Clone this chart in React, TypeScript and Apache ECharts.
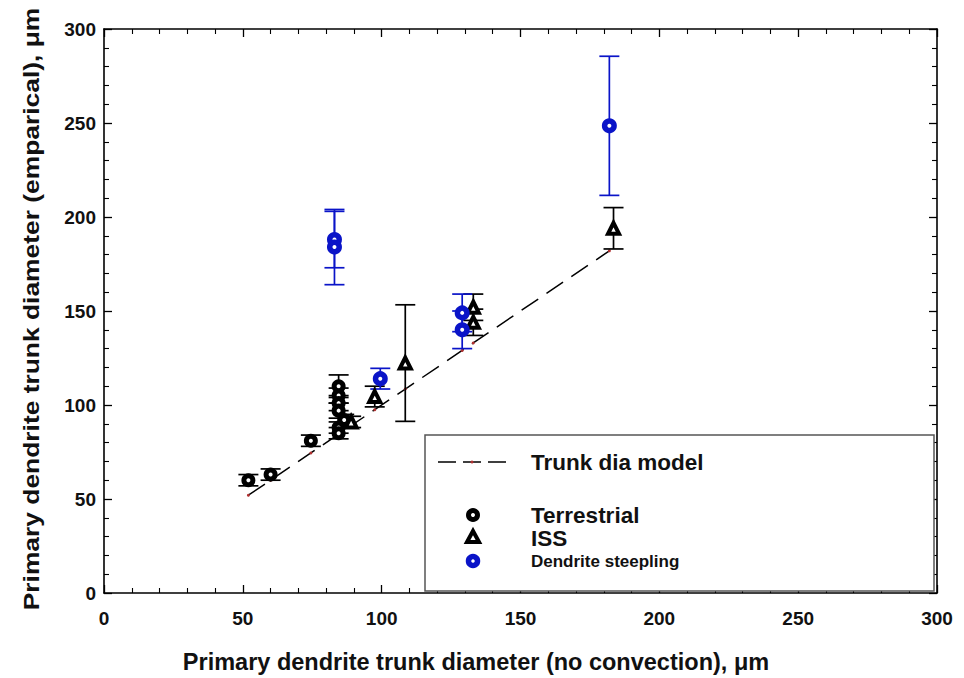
import React, { useEffect, useRef } from "react";
import * as echarts from "echarts";

const xTicks = [0, 50, 100, 150, 200, 250, 300];
const yTicks = [0, 50, 100, 150, 200, 250, 300];

const modelX = [52, 60, 74.5, 84.5, 89, 97.5, 108.5, 129, 133, 182];
const modelY = [52, 60, 74.5, 84.5, 89, 97.5, 108.5, 129, 133, 182];

const terrestrialX = [52, 60, 74.5, 84.5, 84.5, 84.5, 84.5, 86.5, 84.5, 84.5];
const terrestrialY = [60, 63, 81, 110, 105, 101, 97, 92, 88, 85];
const terrestrialErr = [3, 3, 3, 6, 4, 4, 4, 3, 3, 3];

const issX = [89, 97.5, 108.5, 133, 133, 183.5];
const issY = [91, 104.5, 122.3, 152, 144, 194];
const issErr = [3, 5.5, 31, 7, 7, 11];

const dendriteX = [83, 83, 99.5, 129, 129, 182];
const dendriteY = [188, 184, 114, 149, 140, 248.5];
const dendriteErr = [15, 20, 5.5, 10, 10, 37];

const BLUE = "#0a14c8";
const FONT = "Liberation Sans, Arial, sans-serif";

function errSeries(xs: number[], ys: number[], es: number[], color: string, hw: number) {
  return {
    type: "custom",
    xAxisIndex: 0,
    yAxisIndex: 0,
    z: 2,
    silent: true,
    data: xs.map((x, i) => [x, ys[i], es[i]]),
    renderItem: (params: any, api: any) => {
      const x = api.value(0);
      const y = api.value(1);
      const e = api.value(2);
      const t = api.coord([x, y + e]);
      const b = api.coord([x, y - e]);
      const st = { stroke: color, lineWidth: 1.7 };
      return {
        type: "group",
        children: [
          { type: "line", shape: { x1: t[0], y1: t[1], x2: b[0], y2: b[1] }, style: st },
          { type: "line", shape: { x1: t[0] - hw, y1: t[1], x2: t[0] + hw, y2: t[1] }, style: st },
          { type: "line", shape: { x1: b[0] - hw, y1: b[1], x2: b[0] + hw, y2: b[1] }, style: st },
        ],
      };
    },
  };
}

export default function App() {
  const ref = useRef<HTMLDivElement>(null);
  useEffect(() => {
    if (!ref.current) return;
    const chart = echarts.init(ref.current, null, { renderer: "svg" });
    const axisCommon = {
      min: 0,
      max: 300,
      interval: 50,
      splitLine: { show: false },
      axisLine: { show: true, onZero: false, lineStyle: { color: "#000", width: 1.6 } },
      axisTick: { show: true, inside: true, length: 8, lineStyle: { color: "#000", width: 1.3 } },
      minorTick: { show: true, splitNumber: 5, length: 5, lineStyle: { color: "#000", width: 1.1 } },
      minorSplitLine: { show: false },
    };
    const labelStyle = { color: "#111", fontSize: 19, fontWeight: "bold", fontFamily: FONT };
    const option: any = {
      animation: false,
      backgroundColor: "#fff",
      grid: { left: 104, right: 27, top: 29, bottom: 85 },
      xAxis: [
        {
          ...axisCommon,
          type: "value",
          position: "bottom",
          axisLabel: { ...labelStyle, margin: 16, formatter: (v: number) => (xTicks.includes(v) ? String(v) : "") },
        },
        { ...axisCommon, type: "value", position: "top", axisLabel: { show: false } },
      ],
      yAxis: [
        {
          ...axisCommon,
          type: "value",
          position: "left",
          axisLabel: { ...labelStyle, margin: 8, formatter: (v: number) => (yTicks.includes(v) ? String(v) : "") },
        },
        { ...axisCommon, type: "value", position: "right", axisLabel: { show: false } },
      ],
      series: [
        {
          name: "Trunk dia model",
          type: "line",
          xAxisIndex: 0,
          yAxisIndex: 0,
          z: 1,
          data: modelX.map((x, i) => [x, modelY[i]]),
          lineStyle: { color: "#000", width: 1.5, type: [20, 10] },
          symbol: "circle",
          symbolSize: 3,
          itemStyle: { color: "#b03030", opacity: 1 },
        },
        errSeries(terrestrialX, terrestrialY, terrestrialErr, "#000", 10),
        errSeries(issX, issY, issErr, "#000", 10),
        errSeries(dendriteX, dendriteY, dendriteErr, BLUE, 10),
        {
          name: "Terrestrial",
          type: "scatter",
          xAxisIndex: 0,
          yAxisIndex: 0,
          z: 3,
          data: terrestrialX.map((x, i) => [x, terrestrialY[i]]),
          symbol: "circle",
          symbolSize: 9,
          itemStyle: { color: "#fff", borderColor: "#000", borderWidth: 5, opacity: 1 },
        },
        {
          name: "ISS",
          type: "scatter",
          xAxisIndex: 0,
          yAxisIndex: 0,
          z: 3,
          data: issX.map((x, i) => [x, issY[i]]),
          symbol: "triangle",
          symbolSize: 11,
          itemStyle: { color: "#fff", borderColor: "#000", borderWidth: 4, opacity: 1 },
        },
        {
          name: "Dendrite steepling",
          type: "scatter",
          xAxisIndex: 0,
          yAxisIndex: 0,
          z: 3,
          data: dendriteX.map((x, i) => [x, dendriteY[i]]),
          symbol: "circle",
          symbolSize: 9.5,
          itemStyle: { color: "#fff", borderColor: BLUE, borderWidth: 5.5, opacity: 1 },
        },
      ],
      graphic: [
        {
          type: "text",
          x: 31,
          y: 309,
          rotation: Math.PI / 2,
          scaleX: 1.2,
          style: {
            text: "Primary dendrite trunk diameter (emparical), \u03bcm",
            fill: "#111",
            font: `bold 22px ${FONT}`,
            textAlign: "center",
            textVerticalAlign: "middle",
          },
        },
        {
          type: "text",
          x: 476,
          y: 662,
          style: {
            text: "Primary dendrite trunk diameter (no convection), \u03bcm",
            fill: "#111",
            font: `bold 23.5px ${FONT}`,
            textAlign: "center",
            textVerticalAlign: "middle",
          },
        },
        {
          type: "rect",
          shape: { x: 425, y: 435, width: 509, height: 156 },
          style: { fill: "#fff", stroke: "#555", lineWidth: 1.5 },
          z: 10,
        },
        {
          type: "line",
          shape: { x1: 438, y1: 462, x2: 506, y2: 462 },
          style: { stroke: "#000", lineWidth: 1.5, lineDash: [18, 7] },
          z: 11,
        },
        { type: "circle", shape: { cx: 472, cy: 462, r: 1.5 }, style: { fill: "#b03030" }, z: 12 },
        { type: "circle", shape: { cx: 473, cy: 515, r: 4.5 }, style: { fill: "#fff", stroke: "#000", lineWidth: 5 }, z: 11 },
        {
          type: "polygon",
          shape: { points: [[473, 531], [479, 542], [467, 542]] },
          style: { fill: "#fff", stroke: "#000", lineWidth: 4 },
          z: 11,
        },
        { type: "circle", shape: { cx: 473, cy: 561, r: 4.5 }, style: { fill: "#fff", stroke: BLUE, lineWidth: 5.5 }, z: 11 },
        {
          type: "text",
          x: 531,
          y: 462,
          style: { text: "Trunk dia model", fill: "#111", font: `bold 22.5px ${FONT}`, textVerticalAlign: "middle" },
          z: 11,
        },
        {
          type: "text",
          x: 531,
          y: 515,
          style: { text: "Terrestrial", fill: "#111", font: `bold 22.5px ${FONT}`, textVerticalAlign: "middle" },
          z: 11,
        },
        {
          type: "text",
          x: 531,
          y: 538,
          style: { text: "ISS", fill: "#111", font: `bold 22.5px ${FONT}`, textVerticalAlign: "middle" },
          z: 11,
        },
        {
          type: "text",
          x: 531,
          y: 561,
          style: { text: "Dendrite steepling", fill: "#111", font: `bold 17px ${FONT}`, textVerticalAlign: "middle" },
          z: 11,
        },
      ],
    };
    chart.setOption(option);
    return () => chart.dispose();
  }, []);
  return <div ref={ref} style={{ position: "fixed", left: 0, top: 0, width: 964, height: 678 }} />;
}
